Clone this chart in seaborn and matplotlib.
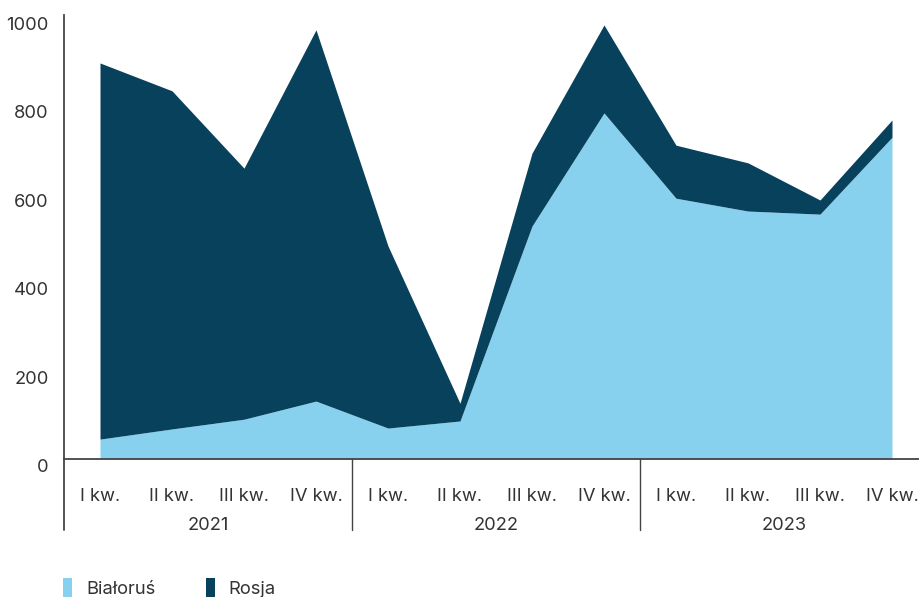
import matplotlib
matplotlib.use("Agg")
import matplotlib.pyplot as plt
from matplotlib.patches import Patch
from matplotlib.lines import Line2D
import seaborn as sns

# Quarterly values (thousand units) by origin
quarters = ["I kw.", "II kw.", "III kw.", "IV kw."] * 3
years = ["2021", "2022", "2023"]
bialorus = [45, 68, 90, 131, 70, 86, 527, 783, 590, 561, 554, 728]
rosja = [851, 765, 568, 840, 412, 40, 165, 199, 120, 109, 32, 39]
yticks = [0, 200, 400, 600, 800, 1000]

series_names = ["Białoruś", "Rosja"]
colors = ["#87d1ee", "#08415c"]

sns.set_theme(style="white")
plt.rcParams["font.family"] = ["Inter", "DejaVu Sans"]
FS = 13.2

W, H = 920, 597
fig = plt.figure(figsize=(W / 100, H / 100), dpi=100)
ax_left, ax_right, ax_bottom, ax_top = 64, 928, 459, 17
ax = fig.add_axes([ax_left / W, (H - ax_bottom) / H,
                   (ax_right - ax_left) / W, (ax_bottom - ax_top) / H])

x = list(range(len(quarters)))
ax.stackplot(x, bialorus, rosja, colors=colors, labels=series_names,
             linewidth=0)

ax.set_xlim(-0.5, len(quarters) - 0.5)
ax.set_ylim(0, 1000)
ax.set_yticks(yticks)
ax.set_yticklabels([str(v) for v in yticks])
ax.set_xticks(x)
ax.set_xticklabels(quarters)
ax.tick_params(axis="both", length=0, labelsize=FS, labelcolor="#333333")
ax.tick_params(axis="x", pad=21)
ax.tick_params(axis="y", pad=11)
for lab in ax.get_yticklabels():
    lab.set_verticalalignment("top")

for side in ["top", "right"]:
    ax.spines[side].set_visible(False)
for side in ["left", "bottom"]:
    ax.spines[side].set_color("#444444")
    ax.spines[side].set_linewidth(1.3)
ax.spines["left"].set_bounds(0, 1005)

# group separators and year labels below the axis
sep_depth = -(530 - ax_bottom) / (ax_bottom - ax_top)
trans = ax.get_xaxis_transform()
for xs in [-0.5, 3.5, 7.5]:
    lw = 1.3 if xs < 0 else 1.0
    ax.add_line(Line2D([xs, xs], [0, sep_depth], transform=trans,
                       color="#444444", linewidth=lw, clip_on=False))
year_y = -(525 - ax_bottom) / (ax_bottom - ax_top)
for i, yr in enumerate(years):
    ax.text(4 * i + 1.5, year_y, yr, transform=trans, ha="center",
            va="center", fontsize=FS, color="#333333")

handles = [Patch(facecolor=c, edgecolor="none") for c in colors]
fig.legend(handles, series_names, loc="center left",
           bbox_to_anchor=(63 / W, (H - 588) / H), ncol=2, frameon=False,
           handlelength=0.5, handleheight=1.35, handletextpad=0.75,
           columnspacing=2.75, fontsize=FS, labelcolor="#333333",
           borderpad=0, borderaxespad=0)

fig.savefig("out.png", dpi=100)
